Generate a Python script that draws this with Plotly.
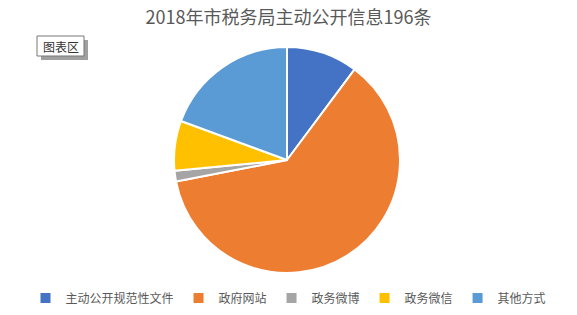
import plotly.graph_objects as go

categories = ["主动公开规范性文件", "政府网站", "政务微博", "政务微信", "其他方式"]
values = [20, 121, 3, 14, 38]
colors = ["#4472C4", "#ED7D31", "#A5A5A5", "#FFC000", "#5B9BD5"]

W, H = 577, 315
def px(x):
    return x / W
def py(y):
    return 1 - y / H

fig = go.Figure(go.Pie(
    labels=categories, values=values, sort=False, direction="clockwise", rotation=0,
    marker=dict(colors=colors, line=dict(color="white", width=2)),
    textinfo="none", hoverinfo="label+value",
    domain=dict(x=[px(174), px(400)], y=[py(273), py(47)]),
))

fig.update_layout(
    width=W, height=H, margin=dict(l=0, r=0, t=0, b=0),
    paper_bgcolor="white", plot_bgcolor="white",
    font=dict(family="Noto Sans CJK SC", color="#595959"),
    title=dict(text="2018年市税务局主动公开信息196条", x=0.5, xanchor="center",
               y=py(18), yanchor="middle", font=dict(size=18, color="#595959")),
    legend=dict(orientation="h", x=0.5, xanchor="center", y=py(298), yanchor="middle",
                font=dict(size=12, color="#595959"), itemwidth=30),
    shapes=[
        dict(type="rect", xref="paper", yref="paper", x0=px(41), x1=px(88), y0=py(60), y1=py(40),
             fillcolor="#A0A0A0", line=dict(width=0), layer="above"),
        dict(type="rect", xref="paper", yref="paper", x0=px(37), x1=px(84), y0=py(56), y1=py(36),
             fillcolor="white", line=dict(color="#767676", width=1), layer="above"),
    ],
    annotations=[
        dict(text="图表区", xref="paper", yref="paper", x=px(60.5), y=py(46), showarrow=False,
             font=dict(size=12, color="#333333"), xanchor="center", yanchor="middle"),
    ],
)

fig.write_html("out.html")
